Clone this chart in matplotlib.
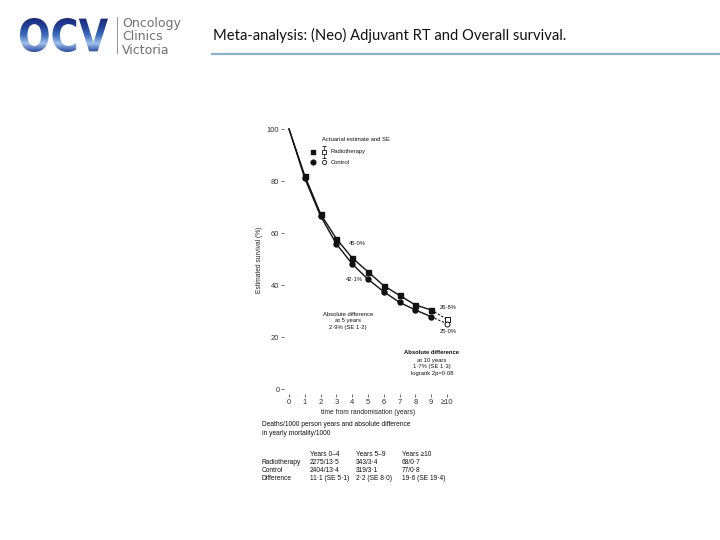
import numpy as np
import matplotlib
matplotlib.use("Agg")
import matplotlib.pyplot as plt
from matplotlib.textpath import TextPath
from matplotlib.patches import PathPatch
from matplotlib.font_manager import FontProperties
from matplotlib.transforms import Affine2D
from matplotlib.colors import LinearSegmentedColormap

# datos
years = [0, 1, 2, 3, 4, 5, 6, 7, 8, 9]
radio = [100, 82.0, 67.3, 57.8, 50.4, 45.1, 39.7, 36.0, 32.3, 30.4]
control = [100, 81.0, 66.5, 55.8, 48.1, 42.2, 37.4, 33.3, 30.4, 27.8]
radio10 = 26.8
control10 = 25.1
xticklabels = ["0", "1", "2", "3", "4", "5", "6", "7", "8", "9", "≥10"]
yticks = [0, 20, 40, 60, 80, 100]

tabla_cols = ["Years 0–4", "Years 5–9", "Years ≥10"]
tabla_filas = ["Radiotherapy", "Control", "Difference"]
tabla = [["2275/13·5", "343/3·4", "68/0·7"],
         ["2404/13·4", "319/3·1", "77/0·8"],
         ["11·1 (SE 5·1)", "2·2 (SE 8·0)", "19·6 (SE 19·4)"]]

W, H = 720, 540
fig = plt.figure(figsize=(7.2, 5.4), dpi=100)
fig.patch.set_facecolor("white")
plt.rcParams["font.family"] = ["Liberation Sans", "DejaVu Sans"]

def fx(x):
    return x / W

def fy(y):
    return 1 - y / H

# logo
axl = fig.add_axes([0, 0, 1, 1])
axl.set_xlim(0, W)
axl.set_ylim(H, 0)
axl.axis("off")
tp = TextPath((0, 0), "OCV", size=10, prop=FontProperties(family="DejaVu Sans", weight="bold"))
bb = tp.get_extents()
sx = (108 - 20) / bb.width
sy = (52 - 18) / bb.height
tr = Affine2D().translate(-bb.x0, -bb.y0).scale(sx, -sy).translate(20, 52)
patch = PathPatch(tr.transform_path(tp), facecolor="none", edgecolor="none")
axl.add_patch(patch)
grad = np.linspace(0, 1, 100).reshape(-1, 1)
cm = LinearSegmentedColormap.from_list("ocv", ["#1b2a78", "#23409a", "#3c6cc0", "#9fc0ea", "#2a4aa0"])
im = axl.imshow(grad, extent=(18, 110, 52, 18), cmap=cm, aspect="auto")
im.set_clip_path(patch)
axl.plot([116.5, 116.5], [17, 53], color="#9a9a9a", lw=0.8)
for i, t in enumerate(["Oncology", "Clinics", "Victoria"]):
    axl.text(122, 24 + 13 * i, t, fontsize=9, color="#707070", va="center", ha="left",
             family="DejaVu Sans")

# titulo
axl.text(213, 35, "Meta-analysis: (Neo) Adjuvant RT and Overall survival.", fontsize=10.6,
         family="Lato", color="#111111", va="center", ha="left")
axl.plot([212, 720], [53.5, 53.5], color="#8ab4c4", lw=1.6)

# grafica de supervivencia
ppx = 15.8
ppy = 2.6
x0p, y0p = 289, 389
xl = (-0.3, 10.3)
yl = (-2, 101)
left = x0p + xl[0] * ppx
right = x0p + xl[1] * ppx
bottom = y0p - yl[0] * ppy
top = y0p - yl[1] * ppy
ax = fig.add_axes([fx(left), fy(bottom), fx(right - left), (bottom - top) / H])
ax.set_xlim(*xl)
ax.set_ylim(*yl)
for s in ax.spines.values():
    s.set_visible(False)

c = "#111111"
ax.plot(years, radio, color=c, lw=1.0)
ax.plot(years, control, color=c, lw=1.0)
ax.plot(years[1:], radio[1:], "s", color=c, ms=3.6)
ax.plot(years[1:], control[1:], "o", color=c, ms=3.6)
ax.plot([9, 10], [radio[-1], radio10], "--", color=c, lw=0.8, dashes=(2, 1.5))
ax.plot([9, 10], [control[-1], control10], "--", color=c, lw=0.8, dashes=(2, 1.5))
ax.plot([10], [radio10], "s", mfc="white", mec=c, ms=3.6, mew=0.7)
ax.plot([10], [control10], "o", mfc="white", mec=c, ms=3.6, mew=0.7)

ax.set_xticks(range(11))
ax.set_xticklabels(xticklabels)
ax.set_yticks(yticks)
ax.tick_params(labelsize=5.5, length=2, width=0.5, pad=1.5, colors="#333333")
ax.set_xlabel("time from randomisation (years)", fontsize=4.8, labelpad=2, color="#222222")
ax.set_ylabel("Estimated survival (%)", fontsize=4.8, labelpad=3, color="#222222")

fs = 4.2
ax.text(2.09, 95.8, "Actuarial estimate and SE", fontsize=fs, va="center", color=c)
ax.plot([1.52], [91.2], "s", color=c, ms=3.4, clip_on=False)
ax.errorbar([2.22], [91.2], yerr=2.2, fmt="s", mfc="white", mec=c, ecolor=c, ms=3.0,
            mew=0.6, elinewidth=0.5, capsize=1.2, clip_on=False)
ax.text(2.65, 91.2, "Radiotherapy", fontsize=fs, va="center", color=c)
ax.plot([1.52], [87.3], "o", color=c, ms=3.4, clip_on=False)
ax.plot([2.22], [87.3], "o", mfc="white", mec=c, ms=3.0, mew=0.6, clip_on=False)
ax.text(2.65, 87.3, "Control", fontsize=fs, va="center", color=c)

ax.text(3.8, 55.8, "45·0%", fontsize=fs, va="center", color=c)
ax.text(3.6, 42.3, "42·1%", fontsize=fs, va="center", color=c)
ax.text(9.55, 31.2, "26·8%", fontsize=fs, va="center", color=c)
ax.text(9.55, 22.3, "25·0%", fontsize=fs, va="center", color=c)
ax.text(3.73, 26.2, "Absolute difference\nat 5 years\n2·9% (SE 1·2)", fontsize=fs,
        ha="center", va="center", color=c, linespacing=1.35)
ax.text(9.05, 14.2, "Absolute difference", fontsize=fs, ha="center", va="center",
        color=c, weight="bold")
ax.text(9.05, 8.6, "at 10 years\n1·7% (SE 1·3)\nlogrank 2p=0·08", fontsize=fs,
        ha="center", va="center", color=c, linespacing=1.35)

# tabla inferior
ft = 4.8
axl.text(262, 429, "Deaths/1000 person years and absolute difference\nin yearly mortality/1000",
         fontsize=ft, va="center", ha="left", color=c, linespacing=1.25)
colx = [310, 356, 401.5]
for j, t in enumerate(tabla_cols):
    axl.text(colx[j], 454, t, fontsize=ft, va="center", ha="left", color=c)
for i, f in enumerate(tabla_filas):
    yy = 462 + 8 * i
    axl.text(262, yy, f, fontsize=ft, va="center", ha="left", color=c)
    for j in range(3):
        axl.text(colx[j], yy, tabla[i][j], fontsize=ft, va="center", ha="left", color=c)

fig.savefig("out.png", dpi=100, facecolor="white")
